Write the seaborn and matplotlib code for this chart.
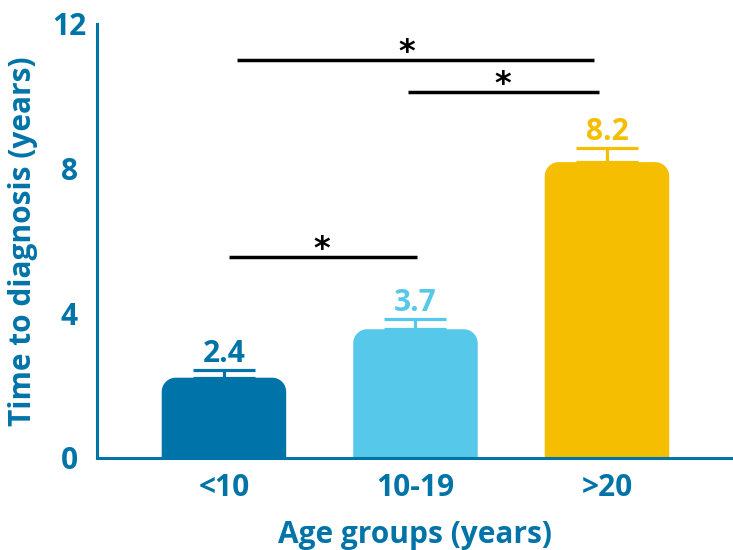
import numpy as np
import matplotlib.pyplot as plt
import seaborn as sns
from matplotlib.path import Path
from matplotlib.patches import PathPatch

# Data
groups = ["<10", "10-19", ">20"]
means = [2.22, 3.56, 8.18]
upper_err = [0.21, 0.28, 0.38]
value_labels = ["2.4", "3.7", "8.2"]
bar_colors = ["#0073A8", "#56C8E9", "#F6BE00"]

# significance brackets and star positions
sig_start = [0.07, 0.96, 0.025]
sig_end = [1.93, 1.96, 1.01]
sig_height = [11.0, 10.12, 5.56]
star_x = [0.955, 1.457, 0.51]

blue = "#0073A8"

sns.set_style("white")
plt.rcParams['font.family'] = ['Open Sans', 'DejaVu Sans']

fig = plt.figure(figsize=(7.33, 5.5), dpi=100)
ax = fig.add_axes([0.1323, 0.1673, 0.8677, 0.7891])

sns.barplot(x=groups, y=means, hue=groups, palette=bar_colors, legend=False,
            width=0.65, saturation=1, ax=ax)

ax.set_xlim(-0.663, 2.658)
ax.set_ylim(0, 12)

# rounded top corners: radius of ~14 px converted to data units
bbox = ax.get_window_extent()
rx = 14 * (ax.get_xlim()[1] - ax.get_xlim()[0]) / bbox.width
ry = 14 * (ax.get_ylim()[1] - ax.get_ylim()[0]) / bbox.height
t = np.linspace(0, np.pi / 2, 12)
for p in list(ax.patches):
  x, w, h = p.get_x(), p.get_width(), p.get_height()
  fc = p.get_facecolor()
  p.remove()
  left = np.column_stack([x + rx - rx * np.cos(t), h - ry + ry * np.sin(t)])
  right = np.column_stack([x + w - rx + rx * np.sin(t), h - ry + ry * np.cos(t)])
  verts = np.vstack([[x, 0], left, right, [x + w, 0], [x, 0]])
  ax.add_patch(PathPatch(Path(verts), fc=fc, ec="none", zorder=2))

# upper error bars and value labels
for i, (m, e, c, lab) in enumerate(zip(means, upper_err, bar_colors, value_labels)):
  ax.errorbar(i, m, yerr=[[0], [e]], fmt='none', ecolor=c, elinewidth=2.3,
              capsize=22.5, capthick=2.3, zorder=3)
  ax.annotate(lab, (i, m + e), xytext=(0, 6), textcoords='offset points',
              ha='center', va='baseline', fontsize=21.5, fontweight='bold',
              color=c)

# significance brackets
for s, e, h, sx in zip(sig_start, sig_end, sig_height, star_x):
  ax.plot([s, e], [h, h], color='black', lw=2.5, solid_capstyle='butt')
  ax.text(sx, h + 0.2, "*", ha='center', va='center',
          fontsize=23, fontweight='bold', color='black',
          family='DejaVu Sans')

ax.set_yticks([0, 4, 8, 12])
ax.set_yticklabels(["0", "4", "8", "12"], ha='center')

sns.despine(ax=ax)
for side in ['left', 'bottom']:
  ax.spines[side].set_color(blue)
  ax.spines[side].set_linewidth(2.2)

ax.tick_params(axis='both', length=0, labelsize=21.5, labelcolor=blue)
ax.tick_params(axis='y', pad=20)
ax.tick_params(axis='x', pad=11)
for lab in ax.get_xticklabels() + ax.get_yticklabels():
  lab.set_fontweight('bold')

ax.set_xlabel("Age groups (years)", fontsize=21.5, fontweight='bold',
              color=blue, labelpad=12)
ax.set_ylabel("Time to diagnosis (years)", fontsize=21.5, fontweight='bold',
              color=blue, labelpad=10)

fig.savefig('out.png', dpi=100)
